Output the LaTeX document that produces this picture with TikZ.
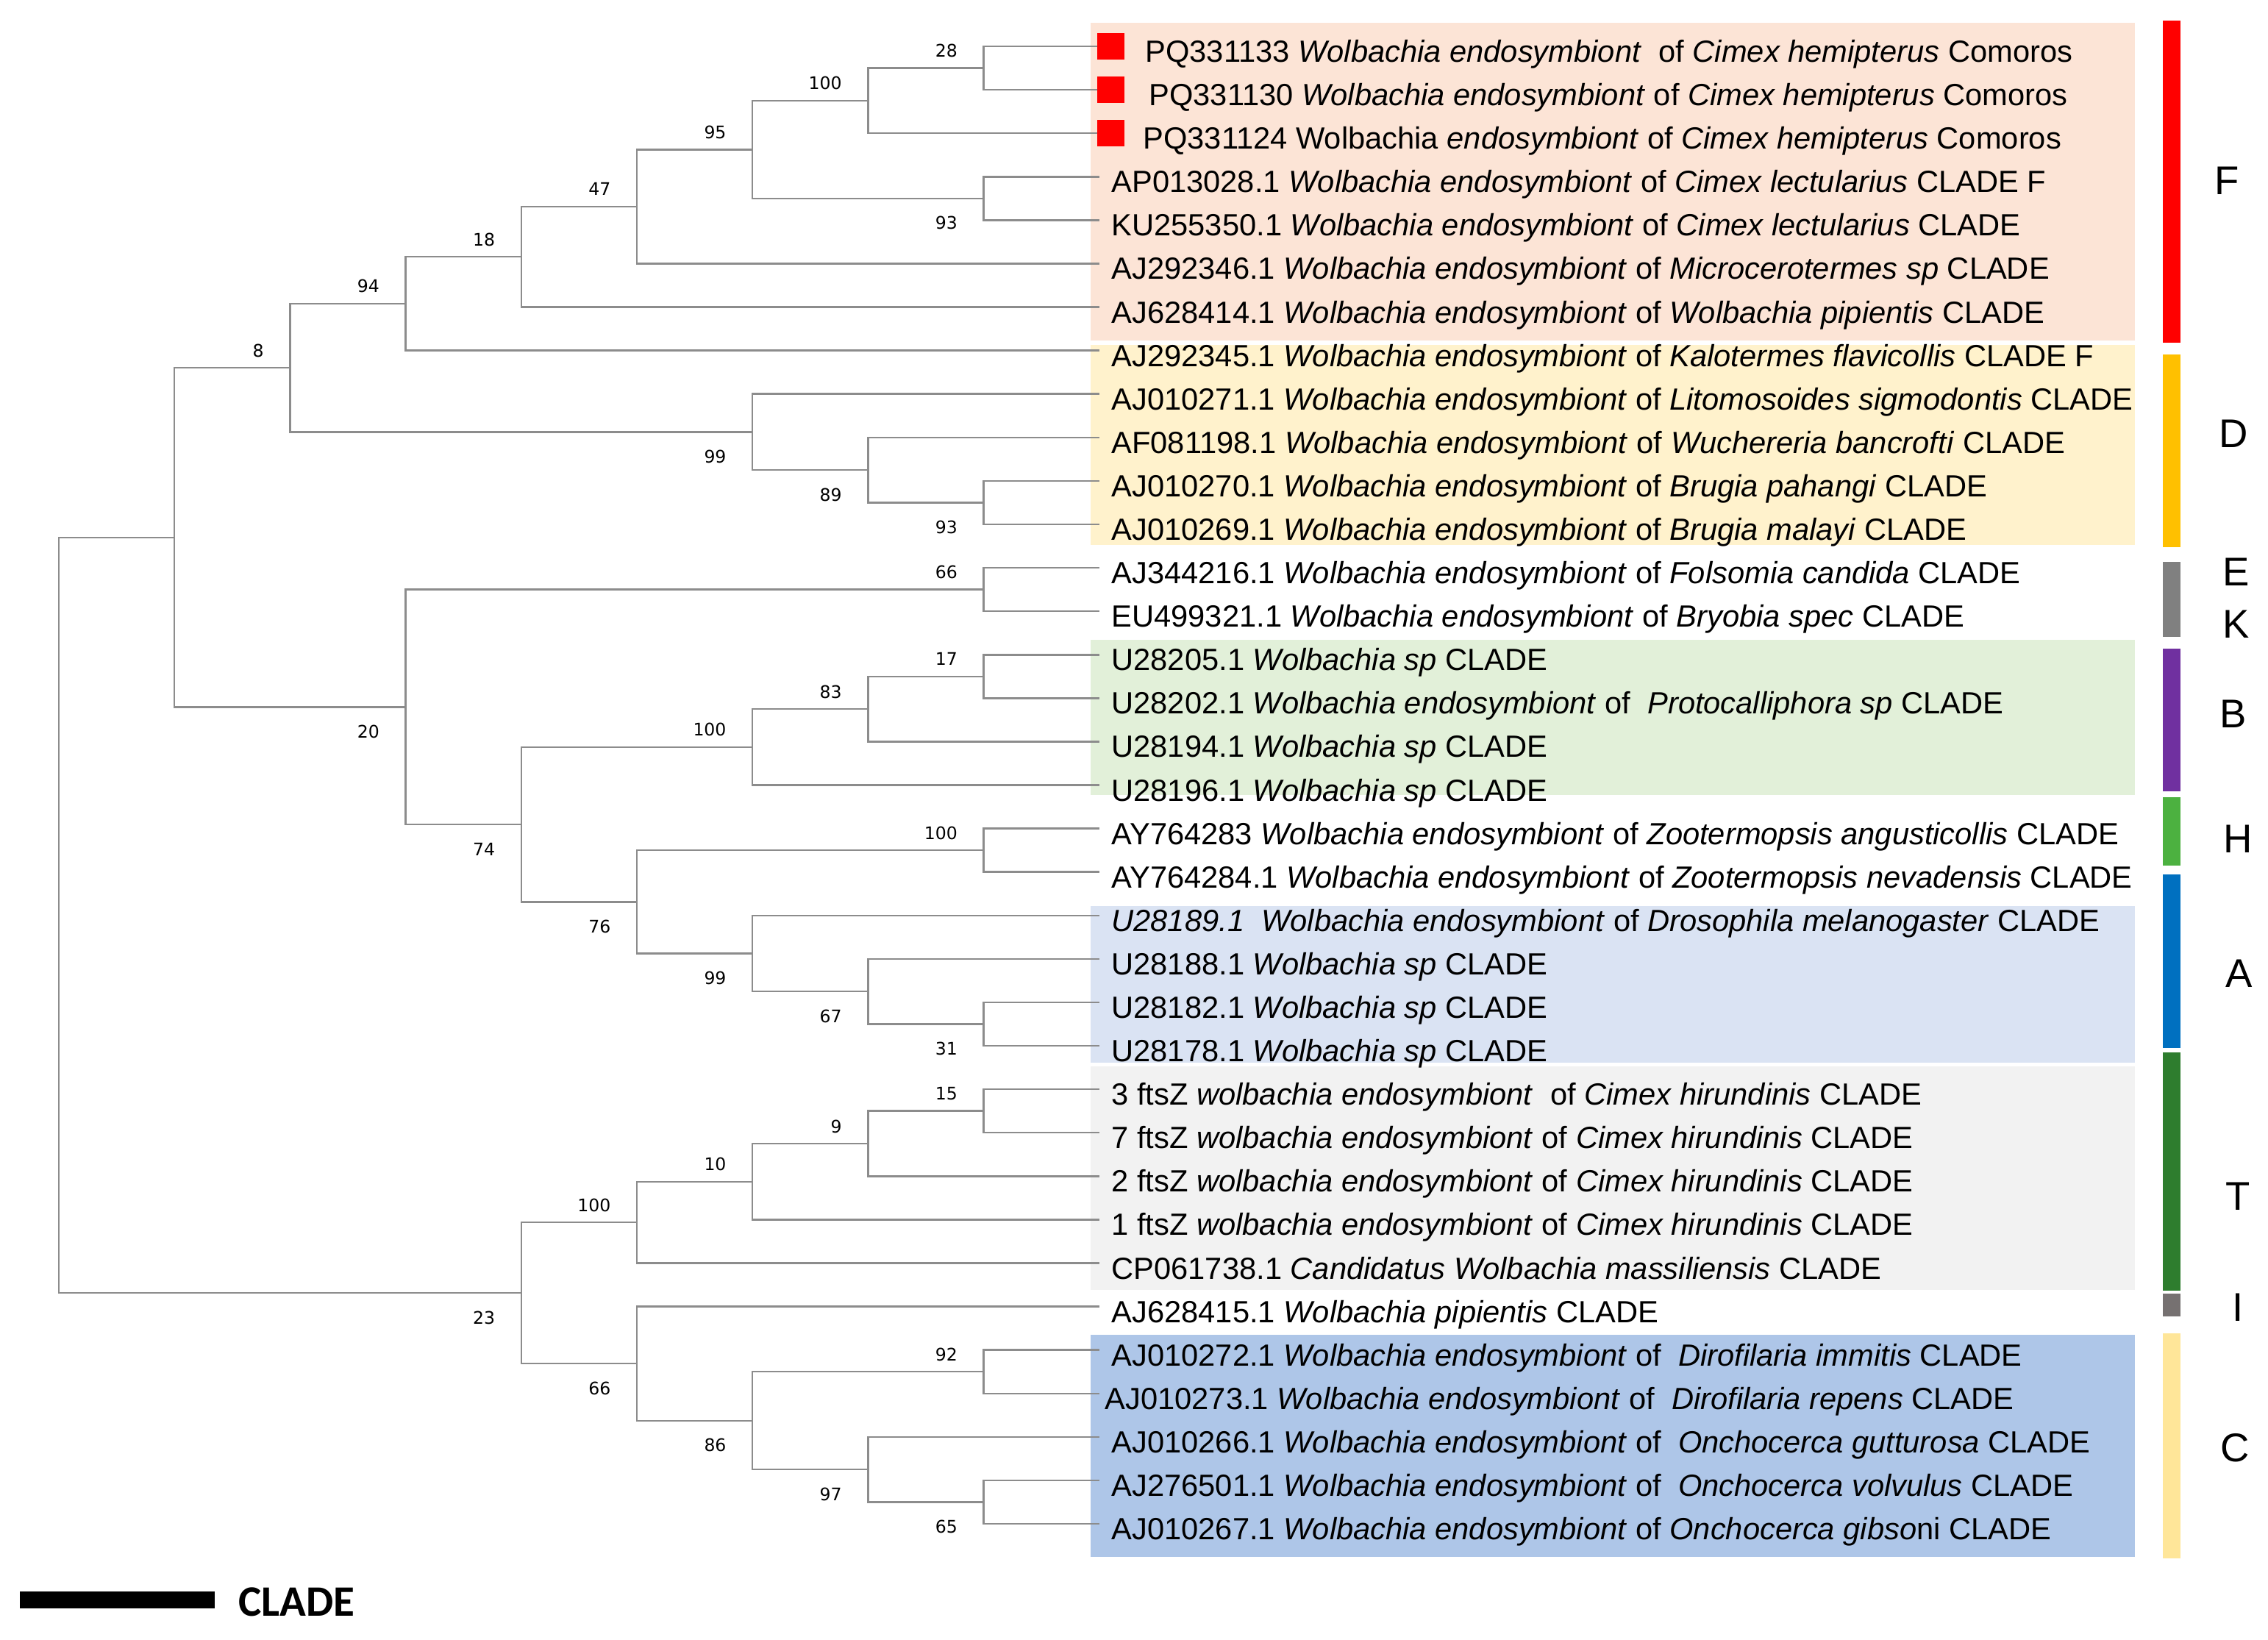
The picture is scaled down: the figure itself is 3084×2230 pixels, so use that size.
\documentclass[tikz,border=0pt]{standalone}
\usepackage{fontspec}
\setmainfont{Liberation Sans}
\newfontfamily\bootfont{DejaVu Sans}
\newfontfamily\barfont{Carlito}
\usepackage{xcolor}

\definecolor{treegray}{RGB}{140,140,140}
\definecolor{boxF}{RGB}{252,228,214}
\definecolor{boxD}{RGB}{255,242,204}
\definecolor{boxB}{RGB}{226,240,217}
\definecolor{boxA}{RGB}{218,227,243}
\definecolor{boxT}{RGB}{242,242,242}
\definecolor{boxC}{RGB}{174,198,232}
\definecolor{barF}{RGB}{255,0,0}
\definecolor{barD}{RGB}{255,192,0}
\definecolor{barEK}{RGB}{128,128,128}
\definecolor{barB}{RGB}{112,48,160}
\definecolor{barH}{RGB}{76,177,64}
\definecolor{barA}{RGB}{0,112,192}
\definecolor{barT}{RGB}{46,125,46}
\definecolor{barI}{RGB}{118,113,113}
\definecolor{barC}{RGB}{255,230,153}

% level (x) and row (y) of a tree position, in pixels
\newcommand{\lx}[1]{80+157.2*#1}
\newcommand{\ry}[1]{63+59.09*(#1-1)}

\tikzset{
  branch/.style={draw=treegray, line width=0.7pt},
  bsval/.style={anchor=base east, inner sep=0pt, font=\bootfont\fontsize{6.7}{8}\selectfont},
  bsup/.style={bsval, xshift=-0.35cm, yshift=0.15cm},
  bsdown/.style={bsval, xshift=-0.35cm, yshift=-0.42cm},
  tip/.style={anchor=base west, inner sep=0pt, xshift=0.16cm, yshift=-0.215cm, font=\fontsize{11.85}{14}\selectfont},
  redsq/.style={fill=red, inner sep=0pt, minimum width=0.37cm, minimum height=0.36cm},
  cladeletter/.style={inner sep=0pt, font=\fontsize{15.5}{18}\selectfont}
}

\begin{document}
\begin{tikzpicture}[x=0.01cm, y=-0.01cm]
\useasboundingbox (0,0) rectangle (3084,2230);

% shaded clade boxes
\fill[boxF] (1483,31) rectangle (2903,463);
\fill[boxD] (1483,469) rectangle (2903,741);
\fill[boxB] (1483,870) rectangle (2903,1081);
\fill[boxA] (1483,1232) rectangle (2903,1445);
\fill[boxT] (1483,1450) rectangle (2903,1754);
\fill[boxC] (1483,1815) rectangle (2903,2117);

% clade bars
\fill[barF] (2941,28) rectangle (2965,466);
\fill[barD] (2941,482) rectangle (2965,744);
\fill[barEK] (2941,764) rectangle (2965,866);
\fill[barB] (2941,882) rectangle (2965,1076);
\fill[barH] (2941,1084) rectangle (2965,1177);
\fill[barA] (2941,1189) rectangle (2965,1425);
\fill[barT] (2941,1431) rectangle (2965,1755);
\fill[barI] (2941,1759) rectangle (2965,1790);
\fill[barC] (2941,1813) rectangle (2965,2119);

% clade letters
\foreach \c/\x/\y in {F/3028/246, D/3037/590, E/3041/778, K/3041/849, B/3037/971,
    H/3043/1141, A/3045/1324, T/3043/1627, I/3043/1778, C/3039/1969}
  \node[cladeletter] (letter\c) at (\x,\y) {\c};

% tips
\foreach \i in {1,...,35}
  \coordinate (t\i) at ({\lx{9}},{\ry{\i}});

% internal nodes
\coordinate (bs28) at ({\lx{8}},{\ry{1.5}});
\coordinate (bs100a) at ({\lx{7}},{\ry{2.25}});
\coordinate (bs93a) at ({\lx{8}},{\ry{4.5}});
\coordinate (bs95) at ({\lx{6}},{\ry{3.375}});
\coordinate (bs47) at ({\lx{5}},{\ry{4.6875}});
\coordinate (bs18) at ({\lx{4}},{\ry{5.84375}});
\coordinate (bs94) at ({\lx{3}},{\ry{6.921875}});
\coordinate (bs93b) at ({\lx{8}},{\ry{11.5}});
\coordinate (bs89) at ({\lx{7}},{\ry{10.75}});
\coordinate (bs99a) at ({\lx{6}},{\ry{9.875}});
\coordinate (bs8) at ({\lx{2}},{\ry{8.3984375}});
\coordinate (bs66a) at ({\lx{8}},{\ry{13.5}});
\coordinate (bs17) at ({\lx{8}},{\ry{15.5}});
\coordinate (bs83) at ({\lx{7}},{\ry{16.25}});
\coordinate (bs100b) at ({\lx{6}},{\ry{17.125}});
\coordinate (bs100c) at ({\lx{8}},{\ry{19.5}});
\coordinate (bs31) at ({\lx{8}},{\ry{23.5}});
\coordinate (bs67) at ({\lx{7}},{\ry{22.75}});
\coordinate (bs99b) at ({\lx{6}},{\ry{21.875}});
\coordinate (bs76) at ({\lx{5}},{\ry{20.6875}});
\coordinate (bs74) at ({\lx{4}},{\ry{18.90625}});
\coordinate (bs20) at ({\lx{3}},{\ry{16.203125}});
\coordinate (upperhalf) at ({\lx{1}},{\ry{12.30078}});
\coordinate (bs15) at ({\lx{8}},{\ry{25.5}});
\coordinate (bs9) at ({\lx{7}},{\ry{26.25}});
\coordinate (bs10) at ({\lx{6}},{\ry{27.125}});
\coordinate (bs100d) at ({\lx{5}},{\ry{28.0625}});
\coordinate (bs92) at ({\lx{8}},{\ry{31.5}});
\coordinate (bs65) at ({\lx{8}},{\ry{34.5}});
\coordinate (bs97) at ({\lx{7}},{\ry{33.75}});
\coordinate (bs86) at ({\lx{6}},{\ry{32.625}});
\coordinate (bs66b) at ({\lx{5}},{\ry{31.3125}});
\coordinate (bs23) at ({\lx{4}},{\ry{29.6875}});
\coordinate (root) at ({\lx{0}},{\ry{20.994}});

% branches
\foreach \p/\c in {bs28/t1, bs28/t2, bs100a/bs28, bs100a/t3, bs93a/t4, bs93a/t5,
    bs95/bs100a, bs95/bs93a, bs47/bs95, bs47/t6, bs18/bs47, bs18/t7, bs94/bs18, bs94/t8,
    bs93b/t11, bs93b/t12, bs89/t10, bs89/bs93b, bs99a/t9, bs99a/bs89, bs8/bs94, bs8/bs99a,
    bs66a/t13, bs66a/t14, bs17/t15, bs17/t16, bs83/bs17, bs83/t17, bs100b/bs83, bs100b/t18,
    bs100c/t19, bs100c/t20, bs31/t23, bs31/t24, bs67/t22, bs67/bs31, bs99b/t21, bs99b/bs67,
    bs76/bs100c, bs76/bs99b, bs74/bs100b, bs74/bs76, bs20/bs66a, bs20/bs74,
    upperhalf/bs8, upperhalf/bs20,
    bs15/t25, bs15/t26, bs9/bs15, bs9/t27, bs10/bs9, bs10/t28, bs100d/bs10, bs100d/t29,
    bs92/t31, bs92/t32, bs65/t34, bs65/t35, bs97/t33, bs97/bs65, bs86/bs92, bs86/bs97,
    bs66b/t30, bs66b/bs86, bs23/bs100d, bs23/bs66b,
    root/upperhalf, root/bs23}
  \draw[branch] (\p) |- (\c);

% bootstrap values
\foreach \n/\v in {bs28/28, bs100a/100, bs95/95, bs47/47, bs18/18, bs94/94, bs8/8,
    bs66a/66, bs17/17, bs83/83, bs100b/100, bs100c/100, bs15/15, bs9/9, bs10/10,
    bs100d/100, bs92/92}
  \node[bsup] (lab-\n) at (\n) {\v};
\foreach \n/\v in {bs93a/93, bs99a/99, bs89/89, bs93b/93, bs20/20, bs74/74, bs76/76,
    bs99b/99, bs67/67, bs31/31, bs23/23, bs66b/66, bs86/86, bs97/97, bs65/65}
  \node[bsdown] (lab-\n) at (\n) {\v};

% Cimex hemipterus from Comoros
\foreach \i in {1,2,3}
  \node[redsq] (sq\i) at ([xshift=0.16cm]t\i) {};
\node[tip, xshift=0.46cm] (name1) at (t1) {PQ331133 \textit{Wolbachia endosymbiont}\ \ of \textit{Cimex hemipterus} Comoros};
\node[tip, xshift=0.51cm] (name2) at (t2) {PQ331130 \textit{Wolbachia endosymbiont} of \textit{Cimex hemipterus} Comoros};
\node[tip, xshift=0.43cm] (name3) at (t3) {PQ331124 Wolbachia \textit{endosymbiont} of \textit{Cimex hemipterus} Comoros};

% other sequences
\foreach \i/\lbl in {
    4/{AP013028.1 \textit{Wolbachia endosymbiont} of \textit{Cimex lectularius} CLADE F},
    5/{KU255350.1 \textit{Wolbachia endosymbiont} of \textit{Cimex lectularius} CLADE},
    6/{AJ292346.1 \textit{Wolbachia endosymbiont} of \textit{Microcerotermes sp} CLADE},
    7/{AJ628414.1 \textit{Wolbachia endosymbiont} of \textit{Wolbachia pipientis} CLADE},
    8/{AJ292345.1 \textit{Wolbachia endosymbiont} of \textit{Kalotermes flavicollis} CLADE F},
    9/{AJ010271.1 \textit{Wolbachia endosymbiont} of \textit{Litomosoides sigmodontis} CLADE},
    10/{AF081198.1 \textit{Wolbachia endosymbiont} of \textit{Wuchereria bancrofti} CLADE},
    11/{AJ010270.1 \textit{Wolbachia endosymbiont} of \textit{Brugia pahangi} CLADE},
    12/{AJ010269.1 \textit{Wolbachia endosymbiont} of \textit{Brugia malayi} CLADE},
    13/{AJ344216.1 \textit{Wolbachia endosymbiont} of \textit{Folsomia candida} CLADE},
    14/{EU499321.1 \textit{Wolbachia endosymbiont} of \textit{Bryobia spec} CLADE},
    15/{U28205.1 \textit{Wolbachia sp} CLADE},
    16/{U28202.1 \textit{Wolbachia endosymbiont} of\ \ \textit{Protocalliphora sp} CLADE},
    17/{U28194.1 \textit{Wolbachia sp} CLADE},
    18/{U28196.1 \textit{Wolbachia sp} CLADE},
    19/{AY764283 \textit{Wolbachia endosymbiont} of \textit{Zootermopsis angusticollis} CLADE},
    20/{AY764284.1 \textit{Wolbachia endosymbiont} of \textit{Zootermopsis nevadensis} CLADE},
    21/{\textit{U28189.1\ \ Wolbachia endosymbiont} of \textit{Drosophila melanogaster} CLADE},
    22/{U28188.1 \textit{Wolbachia sp} CLADE},
    23/{U28182.1 \textit{Wolbachia sp} CLADE},
    24/{U28178.1 \textit{Wolbachia sp} CLADE},
    25/{3 ftsZ \textit{wolbachia endosymbiont}\ \ of \textit{Cimex hirundinis} CLADE},
    26/{7 ftsZ \textit{wolbachia endosymbiont} of \textit{Cimex hirundinis} CLADE},
    27/{2 ftsZ \textit{wolbachia endosymbiont} of \textit{Cimex hirundinis} CLADE},
    28/{1 ftsZ \textit{wolbachia endosymbiont} of \textit{Cimex hirundinis} CLADE},
    29/{CP061738.1 \textit{Candidatus Wolbachia massiliensis} CLADE},
    30/{AJ628415.1 \textit{Wolbachia pipientis} CLADE},
    31/{AJ010272.1 \textit{Wolbachia endosymbiont} of\ \ \textit{Dirofilaria immitis} CLADE},
    33/{AJ010266.1 \textit{Wolbachia endosymbiont} of\ \ \textit{Onchocerca gutturosa} CLADE},
    34/{AJ276501.1 \textit{Wolbachia endosymbiont} of\ \ \textit{Onchocerca volvulus} CLADE},
    35/{AJ010267.1 \textit{Wolbachia endosymbiont} of \textit{Onchocerca gibso}ni CLADE}}
  \node[tip] (name\i) at (t\i) {\lbl};
\node[tip, xshift=-0.09cm] (name32) at (t32) {AJ010273.1 \textit{Wolbachia endosymbiont} of\ \ \textit{Dirofilaria repens} CLADE};

% scale bar
\fill (27,2164) rectangle (292,2187);
\node[anchor=base west, inner sep=0pt, font=\barfont\bfseries\fontsize{16.8}{20}\selectfont] (scalelabel) at (324,2197) {CLADE};
\end{tikzpicture}
\end{document}
